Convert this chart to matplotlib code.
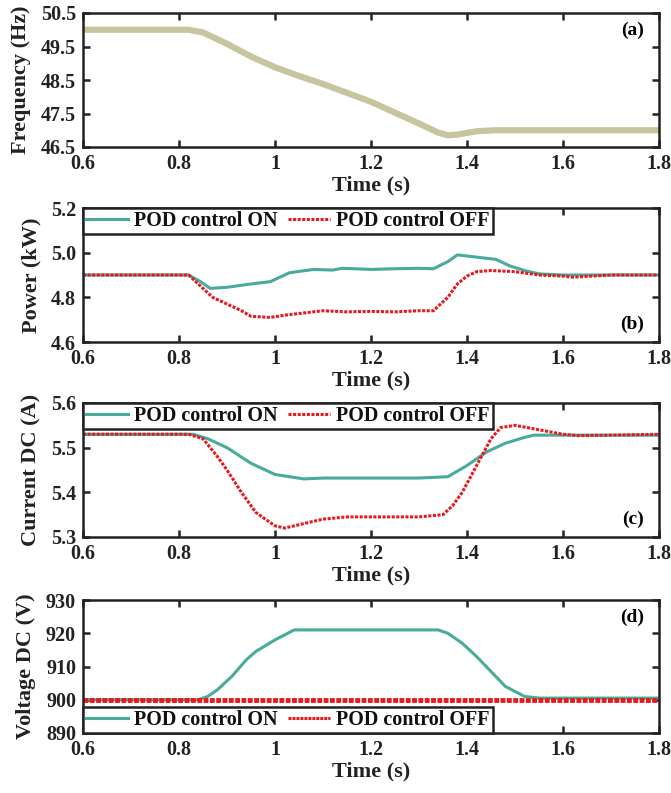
import matplotlib
matplotlib.use("Agg")
import matplotlib.pyplot as plt

plt.rcParams["font.family"] = ["Liberation Serif", "DejaVu Serif"]
plt.rcParams["font.weight"] = "bold"
plt.rcParams["axes.labelweight"] = "bold"

# ---- data ----
t_freq = [0.6, 0.8, 0.82, 0.85, 0.9, 0.95, 1.0, 1.05, 1.1, 1.2, 1.3, 1.34, 1.36, 1.38, 1.42, 1.46, 1.5, 1.6, 1.8]
freq = [50.0, 50.0, 50.0, 49.92, 49.58, 49.2, 48.88, 48.62, 48.38, 47.85, 47.2, 46.93, 46.85, 46.87, 46.97, 47.0, 47.0, 47.0, 47.0]

t_pow_on = [0.6, 0.82, 0.845, 0.865, 0.9, 0.95, 0.99, 1.03, 1.08, 1.12, 1.14, 1.2, 1.25, 1.3, 1.33,
            1.36, 1.38, 1.42, 1.46, 1.49, 1.52, 1.55, 1.6, 1.7, 1.8]
pow_on = [4.9, 4.9, 4.87, 4.84, 4.845, 4.86, 4.87, 4.91, 4.925, 4.922, 4.93, 4.925, 4.928, 4.93, 4.928,
          4.96, 4.99, 4.98, 4.97, 4.94, 4.92, 4.905, 4.9, 4.9, 4.9]
t_pow_off = [0.6, 0.82, 0.85, 0.87, 0.9, 0.93, 0.95, 0.99, 1.02, 1.06, 1.1, 1.15, 1.2, 1.25, 1.3, 1.33,
             1.36, 1.38, 1.4, 1.42, 1.45, 1.5, 1.55, 1.6, 1.62, 1.66, 1.7, 1.75, 1.8]
pow_off = [4.9, 4.9, 4.84, 4.8, 4.77, 4.74, 4.715, 4.71, 4.72, 4.73, 4.74, 4.735, 4.737, 4.735, 4.74, 4.74,
           4.8, 4.86, 4.895, 4.915, 4.92, 4.915, 4.9, 4.895, 4.89, 4.895, 4.9, 4.9, 4.9]

t_cur_on = [0.6, 0.83, 0.86, 0.9, 0.95, 1.0, 1.06, 1.1, 1.2, 1.3, 1.36, 1.4, 1.44, 1.48, 1.52, 1.54, 1.6, 1.8]
cur_on = [5.53, 5.53, 5.52, 5.50, 5.465, 5.44, 5.43, 5.432, 5.432, 5.432, 5.435, 5.46, 5.49, 5.51, 5.523, 5.528, 5.528, 5.528]
t_cur_off = [0.6, 0.82, 0.85, 0.88, 0.9, 0.93, 0.96, 1.0, 1.02, 1.06, 1.1, 1.15, 1.2, 1.3, 1.35,
             1.37, 1.39, 1.41, 1.43, 1.45, 1.47, 1.5, 1.55, 1.6, 1.63, 1.7, 1.8]
cur_off = [5.53, 5.53, 5.52, 5.48, 5.45, 5.40, 5.355, 5.325, 5.32, 5.33, 5.34, 5.345, 5.345, 5.345, 5.35,
           5.37, 5.40, 5.44, 5.48, 5.52, 5.545, 5.55, 5.54, 5.53, 5.527, 5.528, 5.53]

t_volt_on = [0.6, 0.84, 0.86, 0.88, 0.91, 0.94, 0.96, 1.0, 1.04, 1.1, 1.2, 1.3, 1.34, 1.36, 1.39,
             1.42, 1.44, 1.46, 1.48, 1.5, 1.52, 1.55, 1.6, 1.7, 1.8]
volt_on = [900, 900, 901, 903, 907, 912, 914.5, 918, 921, 921, 921, 921, 921, 920, 917,
           913, 910, 907, 904, 902.5, 901, 900.5, 900.5, 900.5, 900.5]
t_volt_off = [0.6, 1.8]
volt_off = [900, 900]

teal = "#48ab9b"
red = "#e8191c"
freq_color = "#c8c59e"
label_on = "POD control ON"
label_off = "POD control OFF"
xticks = [0.6, 0.8, 1, 1.2, 1.4, 1.6, 1.8]
xticklabels = ["0.6", "0.8", "1", "1.2", "1.4", "1.6", "1.8"]

fig = plt.figure(figsize=(6.71, 7.93), dpi=100)
W, H = 671, 793
boxes = [(13, 147), (208, 342), (403, 537), (600, 733)]
axes = []
for top, bottom in boxes:
    ax = fig.add_axes([83 / W, 1 - bottom / H, (659 - 83) / W, (bottom - top) / H])
    axes.append(ax)


def style(ax, yticks, yticklabels, ylim, ylabel):
    ax.set_xlim(0.6, 1.8)
    ax.set_ylim(*ylim)
    ax.set_xticks(xticks)
    ax.set_xticklabels(xticklabels)
    ax.set_yticks(yticks)
    ax.set_yticklabels(yticklabels)
    ax.tick_params(direction="in", length=5, width=1.8, top=True, right=True,
                   labelsize=14.5, colors="#222222", pad=5)
    for s in ax.spines.values():
        s.set_linewidth(1.8)
        s.set_color("#222222")
    ax.set_xlabel("Time (s)", fontsize=16, color="#222222", labelpad=1)
    ax.set_ylabel(ylabel, fontsize=16, color="#222222", labelpad=7)


def legend(ax, loc):
    leg = ax.legend(loc=loc, ncol=2, fontsize=14.5, frameon=True, fancybox=False,
                    framealpha=1, handlelength=2.1, columnspacing=0.5, handletextpad=0.3,
                    borderpad=0.15, borderaxespad=0.0)
    leg.get_frame().set_edgecolor("#222222")
    leg.get_frame().set_linewidth(1.8)
    for txt in leg.get_texts():
        txt.set_fontweight("bold")
        txt.set_color("#111111")


# (a) frequency
ax = axes[0]
ax.plot(t_freq, freq, color=freq_color, lw=4.5, solid_capstyle="butt")
style(ax, [46.5, 47.5, 48.5, 49.5, 50.5], ["46.5", "47.5", "48.5", "49.5", "50.5"],
      (46.5, 50.5), "Frequency (Hz)")
ax.text(0.974, 0.87, "(a)", transform=ax.transAxes, ha="right", va="center",
        fontsize=14, fontweight="bold")

# (b) power
ax = axes[1]
ax.plot(t_pow_on, pow_on, color=teal, lw=2.2, label=label_on)
ax.plot(t_pow_off, pow_off, color=red, lw=2.2, ls=(0, (1, 0.5)), label=label_off)
style(ax, [4.6, 4.8, 5.0, 5.2], ["4.6", "4.8", "5.0", "5.2"], (4.6, 5.2), "Power (kW)")
legend(ax, "upper left")
ax.text(0.974, 0.13, "(b)", transform=ax.transAxes, ha="right", va="center",
        fontsize=14, fontweight="bold")

# (c) DC current
ax = axes[2]
ax.plot(t_cur_on, cur_on, color=teal, lw=2.2, label=label_on)
ax.plot(t_cur_off, cur_off, color=red, lw=2.2, ls=(0, (1, 0.5)), label=label_off)
style(ax, [5.3, 5.4, 5.5, 5.6], ["5.3", "5.4", "5.5", "5.6"], (5.3, 5.6), "Current DC (A)")
legend(ax, "upper left")
ax.text(0.974, 0.13, "(c)", transform=ax.transAxes, ha="right", va="center",
        fontsize=14, fontweight="bold")

# (d) DC voltage
ax = axes[3]
ax.plot(t_volt_on, volt_on, color=teal, lw=2.2, label=label_on)
ax.plot(t_volt_off, volt_off, color=red, lw=3.5, ls=(0, (1, 0.3)), label=label_off)
style(ax, [890, 900, 910, 920, 930], ["890", "900", "910", "920", "930"], (890, 930),
      "Voltage DC (V)")
legend(ax, "lower left")
ax.get_legend().get_lines()[1].set_linewidth(2.2)
ax.text(0.974, 0.87, "(d)", transform=ax.transAxes, ha="right", va="center",
        fontsize=14, fontweight="bold")

fig.savefig("out.png", dpi=100)
